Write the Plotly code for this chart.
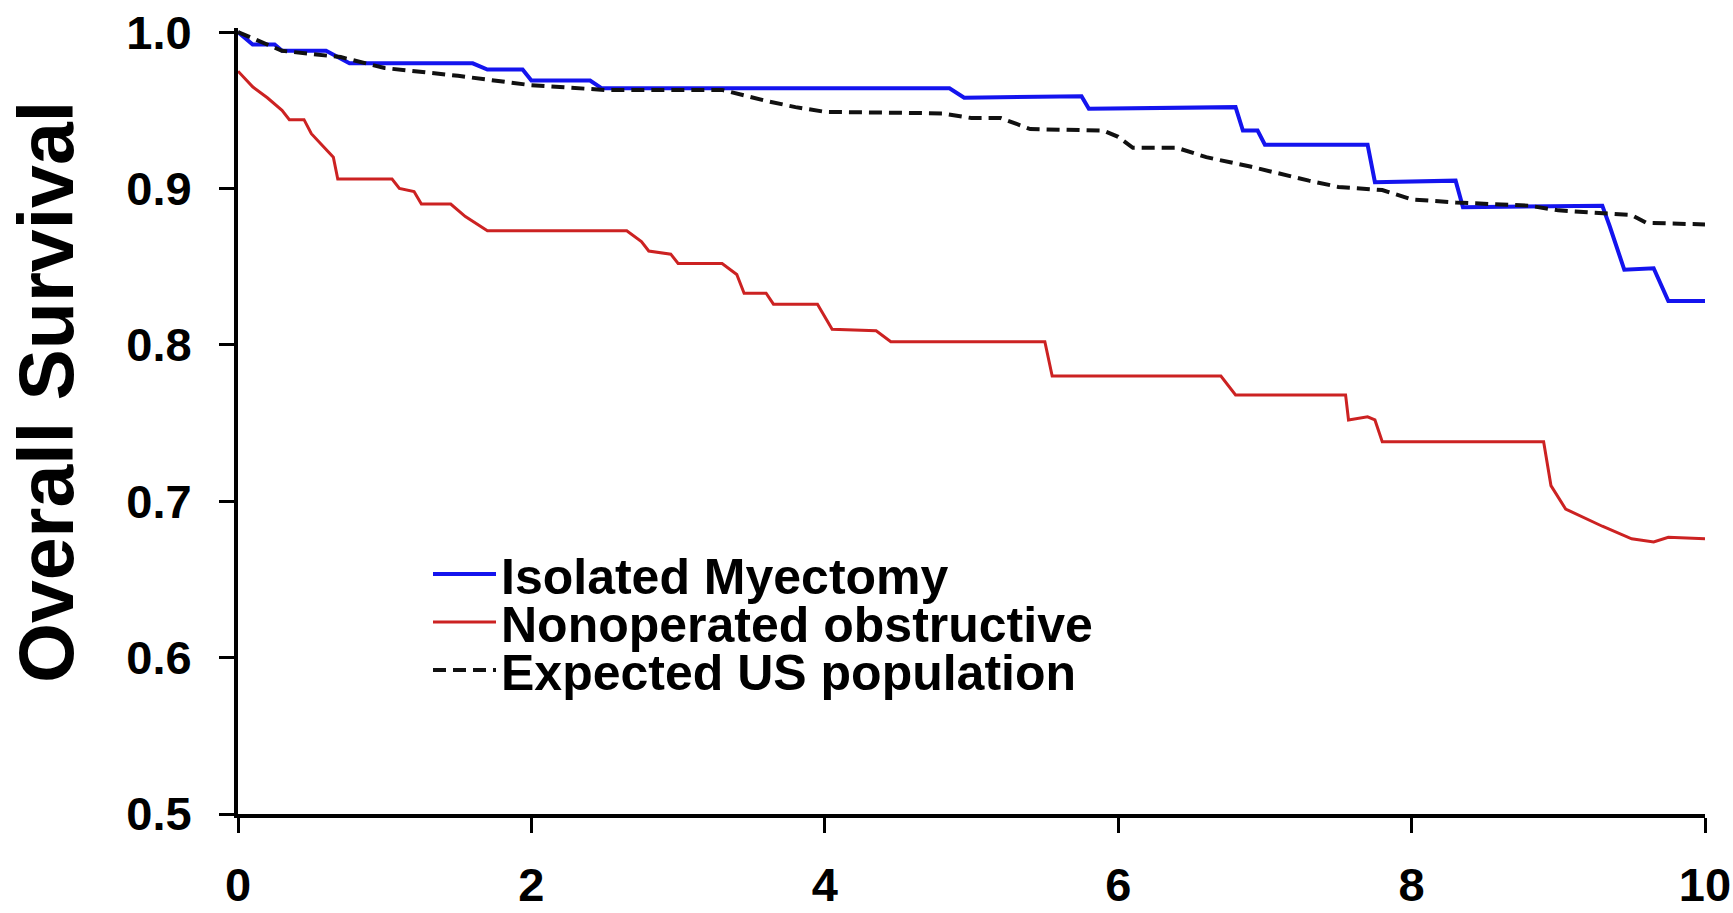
import plotly.graph_objects as go

# ---------------- data ----------------
myectomy_x = [0, 0.1, 0.25, 0.3, 0.6, 0.76, 1.6, 1.7, 1.94, 2.0, 2.4, 2.48, 4.85, 4.95,
              5.75, 5.8, 6.8, 6.85, 6.95, 7.0, 7.7, 7.75, 8.3, 8.35, 9.3, 9.35, 9.45,
              9.65, 9.75, 10.0]
myectomy_y = [1.0, 0.992, 0.992, 0.988, 0.988, 0.980, 0.980, 0.976, 0.976, 0.969, 0.969, 0.964, 0.964, 0.958,
              0.959, 0.951, 0.952, 0.937, 0.937, 0.928, 0.928, 0.904, 0.905, 0.888, 0.889, 0.876, 0.848,
              0.849, 0.828, 0.828]

nonop_x = [0, 0.1, 0.2, 0.3, 0.35, 0.45, 0.5, 0.6, 0.65, 0.68, 1.05, 1.1, 1.2, 1.25, 1.45,
           1.55, 1.7, 2.65, 2.75, 2.8, 2.95, 3.0, 3.3, 3.4, 3.45, 3.6, 3.65, 3.95, 4.05,
           4.35, 4.45, 5.5, 5.55, 6.7, 6.8, 7.55, 7.57, 7.7, 7.75, 7.8, 8.9, 8.95, 9.05,
           9.3, 9.5, 9.65, 9.75, 10.0]
nonop_y = [0.975, 0.965, 0.958, 0.950, 0.944, 0.944, 0.935, 0.925, 0.920, 0.906, 0.906, 0.900, 0.898, 0.890, 0.890,
           0.882, 0.873, 0.873, 0.866, 0.860, 0.858, 0.852, 0.852, 0.845, 0.833, 0.833, 0.826, 0.826, 0.810,
           0.809, 0.802, 0.802, 0.780, 0.780, 0.768, 0.768, 0.752, 0.754, 0.752, 0.738, 0.738, 0.710, 0.695,
           0.684, 0.676, 0.674, 0.677, 0.676]

expected_x = [0, 0.3, 0.7, 1.0, 1.5, 2.0, 2.5, 3.3, 3.6, 3.8, 4.0, 4.8, 5.0, 5.2, 5.4, 5.9, 6.0,
              6.1, 6.4, 6.6, 6.9, 7.2, 7.3, 7.5, 7.8, 8.0, 8.3, 8.8, 9.0, 9.5, 9.6, 10.0]
expected_y = [1.0, 0.988, 0.984, 0.977, 0.972, 0.966, 0.963, 0.963, 0.956, 0.952, 0.949, 0.948, 0.945, 0.945, 0.938, 0.937, 0.933,
              0.926, 0.926, 0.920, 0.914, 0.907, 0.905, 0.901, 0.899, 0.893, 0.891, 0.889, 0.886, 0.883, 0.878, 0.877]

series_names = ["Isolated Myectomy", "Nonoperated obstructive", "Expected US population"]
x_ticks = [0, 2, 4, 6, 8, 10]
y_ticks = [0.5, 0.6, 0.7, 0.8, 0.9, 1.0]
y_tick_labels = ["0.5", "0.6", "0.7", "0.8", "0.9", "1.0"]
y_title = "Overall Survival"

# ---------------- figure ----------------
FONT = "Liberation Sans, Arial, sans-serif"
W, H = 1733, 913
# plot area in page pixels: x 238..1705, y (1.0) 32 .. (0.5) 814
ML = 238
MR = W - 1705
MB = H - 814
MT = 32 - 4   # range top is 1.0026 -> ~4 px above 1.0

fig = go.Figure()
fig.add_trace(go.Scatter(x=myectomy_x, y=myectomy_y, mode="lines", name=series_names[0],
                         line=dict(color="#1414EE", width=4), legend="legend"))
fig.add_trace(go.Scatter(x=nonop_x, y=nonop_y, mode="lines", name=series_names[1],
                         line=dict(color="#CC2222", width=3), legend="legend2"))
fig.add_trace(go.Scatter(x=expected_x, y=expected_y, mode="lines", name=series_names[2],
                         line=dict(color="#111111", width=4, dash="13px,7px"), legend="legend3"))

plot_h = H - MT - MB
plot_w = W - ML - MR
def py(page_y):
    return (H - MB - page_y) / plot_h

def px(page_x):
    return (page_x - ML) / plot_w

leg_common = dict(xanchor="left", yanchor="middle", bgcolor="rgba(0,0,0,0)",
                  font=dict(family=FONT, size=50, color="black", weight="bold"),
                  itemwidth=63, borderwidth=0)

fig.update_layout(
    width=W, height=H,
    margin=dict(l=ML, r=MR, t=MT, b=MB, autoexpand=False),
    paper_bgcolor="white", plot_bgcolor="white",
    font=dict(family=FONT, color="black"),
    showlegend=True,
    legend=dict(x=px(428), y=py(574), **leg_common),
    legend2=dict(x=px(428), y=py(622), **leg_common),
    legend3=dict(x=px(428), y=py(670), **leg_common),
    xaxis=dict(range=[0, 10], tickvals=x_ticks, ticks="outside", ticklen=15, tickwidth=3,
               tickcolor="black", showline=True, linewidth=4, linecolor="black",
               showgrid=False, zeroline=False, ticklabelstandoff=12, automargin=False,
               ticklabeloverflow="allow",
               tickfont=dict(family=FONT, size=47, color="black", weight="bold")),
    yaxis=dict(range=[0.5, 1.0026], tickvals=y_ticks, ticktext=y_tick_labels, ticks="outside",
               ticklen=15, tickwidth=3, tickcolor="black", showline=True, linewidth=4,
               linecolor="black", showgrid=False, zeroline=False, ticklabelstandoff=18,
               automargin=False, ticklabeloverflow="allow",
               tickfont=dict(family=FONT, size=47, color="black", weight="bold")),
    annotations=[dict(text=y_title, xref="paper", yref="paper", x=px(46), y=py(392),
                      xanchor="center", yanchor="middle", textangle=-90, showarrow=False,
                      font=dict(family=FONT, size=77, color="black", weight="bold"))],
)

fig.write_html("out.html", config={"displayModeBar": False},
               post_script="document.body.style.margin='0';document.body.style.overflow='hidden';")
